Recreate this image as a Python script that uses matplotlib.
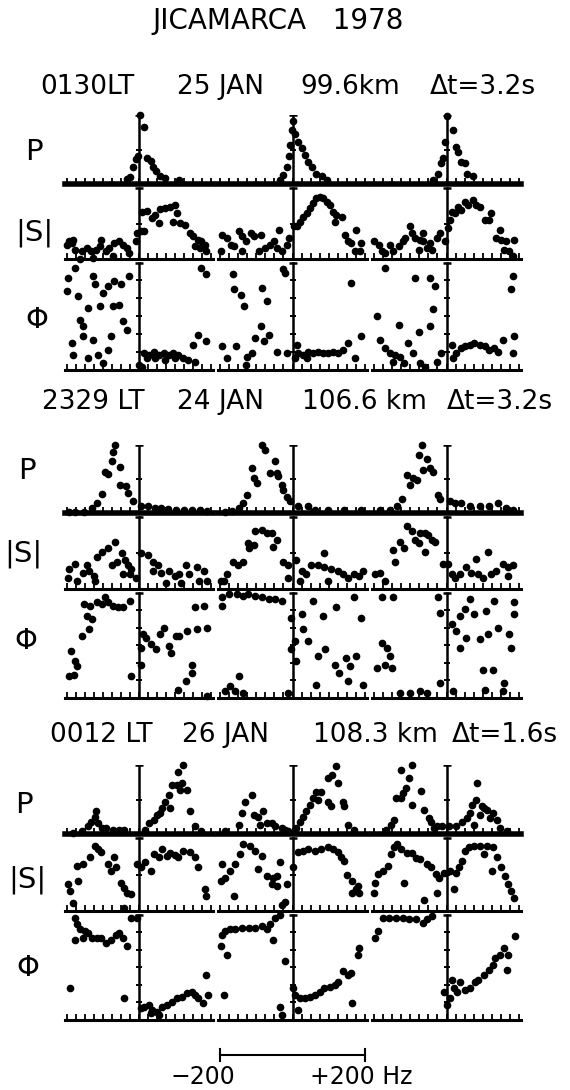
import matplotlib.pyplot as plt

# ---- data: (frequency Hz, value) ----
# P and |S| are normalised 0..1, phase in degrees (-180..180)

# group 1 : 0130LT 25 JAN
g1_P_c1 = [(-33, .07), (-24, .10), (-16, .24), (-9, .36), (-3, .40), (4, 1.0), (13, .83), (22, .38), (33, .34),
           (40, .25), (48, .19), (58, .12), (72, .08), (112, .06)]
g1_P_c2 = [(-34, .06), (-25, .13), (-15, .25), (-11, .40), (-6, .57), (-2, .78), (0, .92), (7, .73), (16, .61),
           (25, .52), (35, .42), (44, .32), (53, .25), (66, .15), (80, .12), (94, .06)]
g1_P_c3 = [(-36, .06), (-23, .15), (-14, .30), (-9, .37), (-5, .61), (2, .98), (18, .78), (27, .54), (32, .47),
           (41, .32), (50, .31), (56, .15), (73, .11)]

g1_S_c1 = [(-200, .20), (-195, .25), (-186, .22), (-182, .27), (-178, .13), (-164, .00), (-159, .11), (-145, .15),
           (-132, .11), (-127, .01), (-118, .13), (-109, .18), (-105, .27), (-91, .11), (-82, .15), (-73, .04),
           (-68, .23), (-55, .25), (-45, .20), (-32, .15), (-27, .08), (-9, .25), (-5, .37), (5, .39), (9, .67),
           (14, .39), (23, .68), (36, .58), (45, .62), (55, .51), (59, .71), (73, .72), (86, .74), (95, .53),
           (100, .77), (105, .65), (114, .51), (127, .48), (141, .37), (150, .32), (155, .18), (164, .27),
           (168, .15), (173, .25), (182, .20), (186, .11)]
g1_S_c2 = [(-198, .11), (-193, .34), (-179, .30), (-170, .20), (-161, .18), (-147, .40), (-138, .32), (-138, .11),
           (-129, .25), (-115, .37), (-106, .32), (-93, .11), (-88, .34), (-75, .15), (-61, .20), (-52, .25),
           (-43, .15), (-38, .41), (-29, .11), (-15, .20), (-11, .30), (3, .46), (12, .46), (21, .53), (30, .60),
           (39, .65), (48, .72), (57, .79), (66, .86), (75, .88), (85, .86), (94, .81), (103, .77), (112, .67),
           (116, .53), (121, .62), (135, .60), (144, .34), (153, .25), (162, .23), (171, .11), (176, .41),
           (185, .11), (189, .23)]
g1_S_c3 = [(-200, .25), (-186, .20), (-177, .11), (-168, .08), (-155, .20), (-146, .11), (-132, .18), (-120, .25),
           (-114, .30), (-100, .46), (-96, .37), (-86, .30), (-77, .13), (-73, .27), (-64, .37), (-64, .25),
           (-55, .15), (-45, .23), (-41, .13), (-27, .30), (-18, .37), (-5, .25), (5, .44), (9, .55), (14, .67),
           (23, .65), (32, .74), (41, .69), (50, .81), (59, .77), (73, .84), (82, .77), (91, .74), (105, .55),
           (118, .55), (123, .65), (136, .30), (146, .41), (150, .27), (159, .13), (164, .25), (173, .11),
           (182, .04), (186, .27)]

g1_F_c1 = [(-200, 84), (-196, 129), (-186, -90), (-182, -129), (-177, 163), (-168, 68), (-164, -11), (-155, -34),
           (-155, -67), (-141, 28), (-141, -141), (-127, 135), (-127, -79), (-123, 107), (-114, -129), (-109, 34),
           (-100, 79), (-100, -158), (-86, 101), (-86, -113), (-77, -67), (-73, 34), (-68, 118), (-55, 39),
           (-50, 107), (-45, -17), (-32, -45), (-27, 135), (0, -163), (9, -169), (14, -124), (23, -141),
           (27, -129), (41, -118), (45, -141), (55, -129), (68, -124), (73, -146), (82, -129), (95, -124),
           (100, -141), (109, -129), (123, -141), (136, -146), (150, -96), (155, -152), (164, -62), (173, 163),
           (186, 141), (186, -84)]
g1_F_c2 = [(-194, -101), (-179, -141), (-165, 141), (-161, 90), (-156, -101), (-143, 73), (-134, 34), (-129, -163),
           (-125, -135), (-111, -124), (-102, -73), (-88, -34), (-84, 96), (-79, -84), (-70, 51), (-66, -62),
           (-43, -118), (-25, 158), (-20, 146), (-15, -124), (7, -141), (12, -96), (16, -124), (30, -129),
           (39, -141), (44, -118), (57, -124), (71, -118), (85, -124), (98, -124), (112, -118), (125, -124),
           (139, -113), (153, -90), (162, 113), (171, -141), (189, -67)]
g1_F_c3 = [(-191, 0), (-182, -79), (-168, 163), (-168, -107), (-155, -124), (-146, -152), (-141, -129), (-132, -28),
           (-127, -135), (-118, -158), (-105, -90), (-91, -124), (-86, 129), (-77, -51), (-73, -158), (-59, -169),
           (-45, 129), (-45, -34), (-36, 23), (-32, 101), (-27, -152), (-14, -124), (14, -96), (18, -141),
           (27, -124), (41, -107), (50, -101), (64, -96), (77, -90), (91, -96), (105, -101), (118, -113),
           (132, -107), (141, -118), (155, -79), (177, 90), (182, 135), (182, -124), (186, -67)]

# group 2 : 2329 LT 24 JAN
g2_P_c1 = [(-194, .01), (-176, .02), (-153, .02), (-130, .07), (-116, .15), (-103, .28), (-94, .61), (-85, .57),
           (-76, .77), (-71, .90), (-66, 1.0), (-53, .68), (-53, .41), (-35, .39), (-30, .29), (-16, .18),
           (6, .10), (25, .10), (43, .08), (61, .07), (79, .06), (102, .05), (125, .05), (147, .05), (170, .05),
           (188, .03)]
g2_P_c2 = [(-185, .02), (-167, .03), (-148, .07), (-135, .15), (-125, .27), (-112, .66), (-107, .51), (-98, .44),
           (-85, 1.0), (-76, .93), (-62, .59), (-48, .76), (-44, .59), (-39, .54), (-30, .41), (-26, .34),
           (-16, .24), (-7, .17), (15, .10), (43, .11), (61, .05), (97, .05), (143, .05), (188, .05)]
g2_P_c3 = [(-182, .05), (-155, .05), (-137, .10), (-123, .20), (-109, .56), (-100, .41), (-91, .51), (-82, .49),
           (-77, .85), (-68, 1.0), (-64, .63), (-55, .80), (-46, .66), (-36, .61), (-23, .27), (-18, .20),
           (9, .17), (23, .15), (41, .15), (64, .10), (91, .10), (118, .11), (141, .15), (164, .07), (182, .05)]

g2_S_c1 = [(-198, .16), (-194, .28), (-176, .35), (-171, .11), (-155, .23), (-144, .33), (-139, .25), (-126, .18),
           (-121, .11), (-117, .45), (-103, .52), (-85, .57), (-75, .33), (-66, .66), (-62, .37), (-48, .50),
           (-44, .21), (-39, .40), (-30, .33), (-25, .21), (-21, .28), (-7, .16), (6, .50), (25, .47), (38, .38),
           (38, .25), (52, .33), (61, .23), (75, .09), (84, .25), (99, .18), (111, .21), (116, .09), (129, .33),
           (138, .21), (161, .30), (166, .11), (179, .25), (188, .11)]
g2_S_c2 = [(-198, .11), (-189, .11), (-180, .21), (-164, .38), (-149, .33), (-135, .38), (-123, .64), (-121, .57),
           (-107, .62), (-103, .81), (-85, .82), (-71, .78), (-57, .78), (-53, .59), (-44, .69), (-25, .38),
           (-12, .33), (-12, .16), (11, .40), (20, .11), (25, .25), (38, .21), (52, .33), (70, .33), (88, .50),
           (88, .30), (97, .11), (106, .28), (125, .25), (138, .21), (152, .16), (170, .21), (184, .18), (193, .25)]
g2_S_c3 = [(-196, .21), (-182, .23), (-168, .11), (-146, .54), (-141, .38), (-127, .66), (-118, .57), (-109, .88),
           (-96, .81), (-86, .69), (-77, .64), (-73, .78), (-59, .78), (-59, .52), (-50, .76), (-41, .69),
           (-32, .66), (-9, .35), (5, .35), (14, .21), (23, .16), (36, .21), (55, .30), (68, .23), (82, .42),
           (86, .21), (100, .16), (114, .52), (123, .21), (136, .25), (155, .35), (168, .18), (168, .30), (182, .33)]

g2_F_c1 = [(-194, -106), (-189, -20), (-180, -100), (-176, -54), (-171, -71), (-157, 31), (-153, 140), (-144, 100),
           (-139, 54), (-135, 134), (-130, 89), (-116, 146), (-103, 140), (-94, 163), (-85, 146), (-71, 134),
           (-57, 129), (-44, 129), (-25, 151), (-21, -106), (6, -9), (6, -66), (11, 37), (20, 26), (34, 3),
           (48, -14), (57, 37), (70, 60), (84, -3), (89, -26), (102, 31), (107, -151), (111, 31), (129, -123),
           (134, 49), (148, -66), (148, -94), (156, 129), (161, 54), (179, 134), (188, 60), (188, -172)]
g2_F_c2 = [(-194, 163), (-194, 134), (-185, -157), (-176, 176), (-171, -140), (-157, -157), (-153, 174),
           (-148, -106), (-135, 169), (-135, -163), (-123, 174), (-103, 169), (-85, 163), (-66, 157), (-48, 157),
           (-30, 151), (-12, -163), (-3, 94), (-3, -14), (6, 14), (11, -54), (25, 106), (30, 54), (43, 14),
           (57, 151), (65, -134), (70, -37), (84, 100), (89, -14), (116, -66), (121, 129), (129, -94), (148, -43),
           (152, -123), (157, -71), (170, 163), (175, -37), (189, 94), (193, -134)]
g2_F_c3 = [(-191, -77), (-177, 163), (-177, 9), (-168, -66), (-164, -9), (-155, -37), (-150, -77), (-146, 163),
           (-127, -163), (-100, -163), (-73, -157), (-55, -163), (-23, 163), (-18, 111), (-18, -129), (14, 71),
           (18, -157), (27, 49), (36, 100), (36, -9), (50, 123), (55, 26), (64, 157), (77, 106), (91, 20),
           (100, -83), (105, -151), (109, 117), (114, 37), (127, -83), (132, 151), (141, 60), (155, -157),
           (159, -129), (173, 37), (177, -9), (186, 146), (186, 106)]

# group 3 : 0012 LT 26 JAN
g3_P_c1 = [(-182, .01), (-159, .04), (-141, .11), (-132, .18), (-123, .25), (-118, .33), (-114, .16), (-103, .09),
           (-91, .09), (-73, .06), (-55, .06), (-41, .06), (18, .06), (27, .16), (41, .21), (50, .28), (59, .30),
           (64, .38), (73, .47), (82, .57), (86, .38), (91, .71), (105, .71), (109, .90), (114, .64), (118, .74),
           (123, 1.0), (132, .64), (141, .33), (155, .11), (173, .04)]
g3_P_c2 = [(-185, .04), (-148, .13), (-139, .30), (-130, .47), (-112, .57), (-107, .28), (-94, .25), (-89, .13),
           (-80, .33), (-71, .16), (-57, .16), (-48, .11), (-30, .09), (-21, .06), (-12, .04), (11, .09), (20, .18),
           (29, .25), (38, .33), (48, .42), (57, .52), (66, .61), (70, .49), (79, .61), (97, .47), (97, .81),
           (106, .40), (110, .86), (119, .98), (124, .74), (138, .47), (143, .40), (152, .13), (170, .06)]
g3_P_c3 = [(-167, .06), (-153, .13), (-144, .21), (-139, .52), (-126, .52), (-126, .93), (-121, .59), (-112, .66),
           (-103, .81), (-94, 1.0), (-94, .42), (-71, .62), (-62, .35), (-48, .23), (-44, .18), (-35, .09),
           (-26, .11), (-12, .11), (6, .11), (25, .11), (43, .18), (57, .23), (66, .30), (70, .42), (75, .13),
           (80, .50), (84, .74), (93, .27), (97, .40), (102, .37), (111, .35), (120, .23), (129, .30), (138, .21),
           (147, .09), (166, .04)]

g3_S_c1 = [(-196, .37), (-191, .27), (-182, .11), (-173, .62), (-168, .41), (-155, .65), (-137, .74), (-123, .90),
           (-114, .85), (-105, .81), (-86, .65), (-77, .55), (-68, .74), (-64, .60), (-50, .39), (-41, .32),
           (-41, .04), (-32, .25), (-23, .23), (-5, .65), (5, .60), (18, .67), (32, .55), (41, .79), (55, .74),
           (64, .85), (77, .76), (86, .80), (100, .77), (109, .75), (123, .83), (141, .81), (155, .74), (164, .60),
           (182, .30), (186, .20)]
g3_S_c2 = [(-198, .41), (-194, .65), (-185, .46), (-171, .55), (-162, .20), (-157, .65), (-144, .79), (-135, .92),
           (-116, .90), (-103, .83), (-94, .58), (-85, .76), (-71, .48), (-57, .37), (-53, .46), (-44, .48),
           (-44, .34), (-35, .67), (-30, .08), (-21, .13), (-16, .37), (2, .60), (16, .81), (29, .83), (43, .86),
           (61, .83), (79, .86), (97, .88), (111, .86), (124, .81), (133, .74), (142, .69), (151, .50), (165, .41),
           (165, .25), (174, .30), (179, .34), (183, .25)]
g3_S_c3 = [(-200, .25), (-198, .39), (-189, .51), (-175, .55), (-162, .62), (-153, .79), (-144, .88), (-135, .92),
           (-126, .85), (-117, .39), (-108, .80), (-94, .80), (-85, .73), (-72, .71), (-62, .15), (-53, .65),
           (-44, .60), (-30, .51), (-26, .25), (-21, .46), (-7, .53), (11, .55), (20, .30), (25, .53), (34, .60),
           (43, .69), (52, .83), (61, .88), (75, .90), (93, .90), (102, .78), (111, .90), (125, .55), (129, .88),
           (138, .74), (151, .60), (160, .48), (169, .37), (178, .27), (187, .18)]

g3_F_c1 = [(-191, -71), (-177, 169), (-177, 94), (-173, 146), (-164, 129), (-155, 100), (-150, 123), (-141, 117),
           (-130, 100), (-116, 100), (-105, 100), (-91, 83), (-77, 94), (-64, 111), (-55, 117), (-45, 100),
           (-41, -106), (-32, 71), (-23, 169), (-5, 169), (5, -140), (14, -134), (27, -129), (32, -157),
           (36, -146), (50, -151), (55, -163), (64, -134), (77, -129), (91, -117), (105, -106), (118, -100),
           (132, -89), (146, -83), (155, -94), (164, -106), (177, -123), (186, -26), (191, -94)]
g3_F_c2 = [(-198, 71), (-194, 111), (-189, -94), (-185, 123), (-180, 43), (-171, 129), (-157, 129), (-139, 134),
           (-121, 134), (-103, 134), (-85, 140), (-71, 129), (-62, 146), (-53, 94), (-48, 169), (-35, 178),
           (-35, -134), (-30, -163), (-21, 20), (2, -71), (6, -94), (16, -146), (20, -106), (34, -106), (48, -100),
           (61, -94), (75, -83), (88, -71), (102, -66), (116, -60), (125, -49), (138, -14), (152, -26), (161, -20),
           (165, -123), (179, 43), (183, 66)]
g3_F_c3 = [(-198, 100), (-189, 123), (-175, 169), (-157, 169), (-139, 169), (-121, 169), (-103, 163), (-85, 163),
           (-66, 151), (-53, 163), (-39, 174), (-7, -83), (2, -129), (11, -106), (15, -43), (20, -71), (29, -83),
           (38, -49), (52, -77), (66, -71), (79, -49), (88, -43), (102, -26), (116, -9), (129, 9), (134, 31),
           (148, 43), (157, 66), (166, -9), (170, 43), (189, 106)]

groups = [
    [[g1_P_c1, g1_P_c2, g1_P_c3], [g1_S_c1, g1_S_c2, g1_S_c3], [g1_F_c1, g1_F_c2, g1_F_c3]],
    [[g2_P_c1, g2_P_c2, g2_P_c3], [g2_S_c1, g2_S_c2, g2_S_c3], [g2_F_c1, g2_F_c2, g2_F_c3]],
    [[g3_P_c1, g3_P_c2, g3_P_c3], [g3_S_c1, g3_S_c2, g3_S_c3], [g3_F_c1, g3_F_c2, g3_F_c3]],
]
headers = [["0130LT", "25 JAN", "99.6km", "Δt=3.2s"],
           ["2329 LT", "24 JAN", "106.6 km", "Δt=3.2s"],
           ["0012 LT", "26 JAN", "108.3 km", "Δt=1.6s"]]
row_names = ["P", "|S|", "Φ"]

# ---- layout (pixels of the 570x1090 picture) ----
W, H = 570, 1090
fig = plt.figure(figsize=(W / 100, H / 100), dpi=100)
plt.rcParams['font.family'] = ['DejaVu Sans']


def px_axes(x0, y0, x1, y1):
    return fig.add_axes([x0 / W, 1 - y1 / H, (x1 - x0) / W, (y1 - y0) / H])


col_px = [(65, 213), (218, 367), (372, 521)]
row_px = [[(115, 184), (184, 259), (259, 370)],
          [(445, 513), (513, 589), (589, 698)],
          [(765, 834), (834, 911), (911, 1020)]]
header_y = [87, 402, 735]
header_x = [[40, 177, 300, 430], [42, 177, 302, 447], [50, 182, 313, 452]]
label_pos = [[(34, 152), (34, 233), (37, 320)],
             [(27, 471), (23, 554), (26, 641)],
             [(24, 805), (27, 880), (28, 968)]]

# per row: y-limits, top of centre axis, ticks on centre axis, baseline width
row_style = [((0, 1.0), 1.0, [0.5], 4.0),
             ((0, 1.06), 1.0, [0.5], 2.2),
             ((-180, 192), 180, [-120, -60, 0, 60, 120], 2.2)]

fig.text(278 / W, 1 - 21 / H, "JICAMARCA   1978", fontsize=20, ha='center', va='center')

for g in range(3):
    for k in range(4):
        fig.text(header_x[g][k] / W, 1 - header_y[g] / H, headers[g][k], fontsize=19,
                 ha='left', va='center')
    for r in range(3):
        lx, ly = label_pos[g][r]
        fig.text(lx / W, 1 - ly / H, row_names[r], fontsize=21, ha='center', va='center')
        ylim, ytop, vticks, base_lw = row_style[r]
        y0, y1 = row_px[g][r]
        for c in range(3):
            x0, x1 = col_px[c]
            ax = px_axes(x0, y0, x1, y1)
            ax.set_xlim(-205, 205)
            ax.set_ylim(*ylim)
            ax.patch.set_visible(False)
            for s in ['top', 'right', 'left']:
                ax.spines[s].set_visible(False)
            ax.spines['bottom'].set_linewidth(base_lw)
            ax.set_xticks(range(-200, 201, 25))
            ax.set_yticks([])
            ax.tick_params(axis='x', direction='in', length=4, width=1.3, labelbottom=False)
            # centre axis with cap and ticks
            ax.plot([0, 0], [ylim[0], ytop], color='k', lw=1.8)
            ax.plot([0], [ytop], marker='_', ms=6, mew=1.8, color='k')
            ax.plot([0] * len(vticks), vticks, ls='none', marker='_', ms=5, mew=1.4, color='k')
            xs, ys = zip(*groups[g][r][c])
            ax.plot(xs, ys, 'o', color='k', ms=4.5, clip_on=False, zorder=3)

# frequency scale bar under middle column
axb = px_axes(218, 1045, 367, 1065)
axb.set_xlim(-205, 205)
axb.set_ylim(-1, 1)
axb.axis('off')
axb.plot([-200, 200], [0, 0], color='k', lw=1.5)
axb.plot([-200, -200], [-0.6, 0.6], color='k', lw=1.5)
axb.plot([200, 200], [-0.6, 0.6], color='k', lw=1.5)
fig.text(203 / W, 1 - 1077 / H, "−200", fontsize=17, ha='center', va='center')
fig.text(310 / W, 1 - 1077 / H, "+200 Hz", fontsize=17, ha='left', va='center')

fig.savefig('out.png', dpi=100)
